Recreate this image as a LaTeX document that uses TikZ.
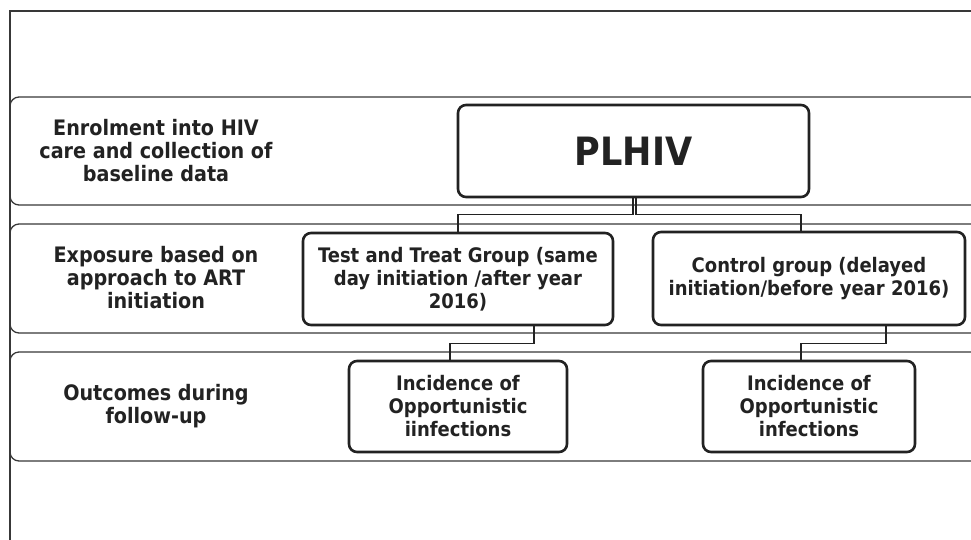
\documentclass[tikz,border=0pt]{standalone}
\usepackage{fontspec}
\setmainfont{DejaVu Sans Condensed}[BoldFont={DejaVu Sans Condensed Bold}]
\usetikzlibrary{calc}
\definecolor{ink}{HTML}{222222}
\definecolor{bandline}{HTML}{383838}
\begin{document}
\begin{tikzpicture}[x=1pt,y=-1pt,
  band/.style={draw=bandline,line width=1.3pt,rounded corners=9pt},
  lbl/.style={align=center,text=ink,font=\bfseries\fontsize{21.3}{23}\selectfont},
  stagebox/.style={draw=ink,line width=2.6pt,rounded corners=8pt,inner sep=0pt,align=center,text=ink,
    font=\bfseries\fontsize{20}{23}\selectfont},
  conn/.style={draw=ink,line width=1.6pt}]
\useasboundingbox (0,0) rectangle (971,539);
\begin{scope}
\clip (0,0) rectangle (971,539);
% outer frame
\draw[draw=bandline,line width=1.3pt] (10,11) rectangle (1100,700);
% row bands
\draw[band] (10,97) rectangle (1100,205);
\draw[band] (10,224) rectangle (1100,333);
\draw[band] (10,352) rectangle (1100,461);
\end{scope}
% row labels
\node[lbl] (l1) at (156,151) {Enrolment into HIV\\care and collection of\\baseline data};
\node[lbl] (l2) at (156,278) {Exposure based on\\approach to ART\\initiation};
\node[lbl] (l3) at (156,406) {Outcomes during\\follow-up};
% boxes
\node[stagebox,minimum width=351pt,minimum height=92pt,font=\bfseries\fontsize{39}{44}\selectfont] (plhiv) at (633.5,151) {PLHIV};
\node[stagebox,minimum width=310pt,minimum height=92pt] (test) at (458,279) {Test and Treat Group (same\\day initiation /after year\\2016)};
\node[stagebox,minimum width=312pt,minimum height=93pt] (ctrl) at (809,278.5) {Control group (delayed\\initiation/before year 2016)};
\node[stagebox,minimum width=218pt,minimum height=91pt] (inc1) at (458,406.5) {Incidence of\\Opportunistic\\iinfections};
\node[stagebox,minimum width=212pt,minimum height=91pt] (inc2) at (809,406.5) {Incidence of\\Opportunistic\\infections};
% connectors
\draw[conn] ([xshift=-0.5pt]plhiv.south) -- ++(0,16) -| (test.north);
\draw[conn] ([xshift=2.5pt]plhiv.south) -- ++(0,16) -| ([xshift=-8pt]ctrl.north);
\draw[conn] ([xshift=76pt]test.south) -- ++(0,17) -| ([xshift=-8pt]inc1.north);
\draw[conn] ([xshift=77pt]ctrl.south) -- ++(0,17) -| ([xshift=-8pt]inc2.north);
\end{tikzpicture}
\end{document}
